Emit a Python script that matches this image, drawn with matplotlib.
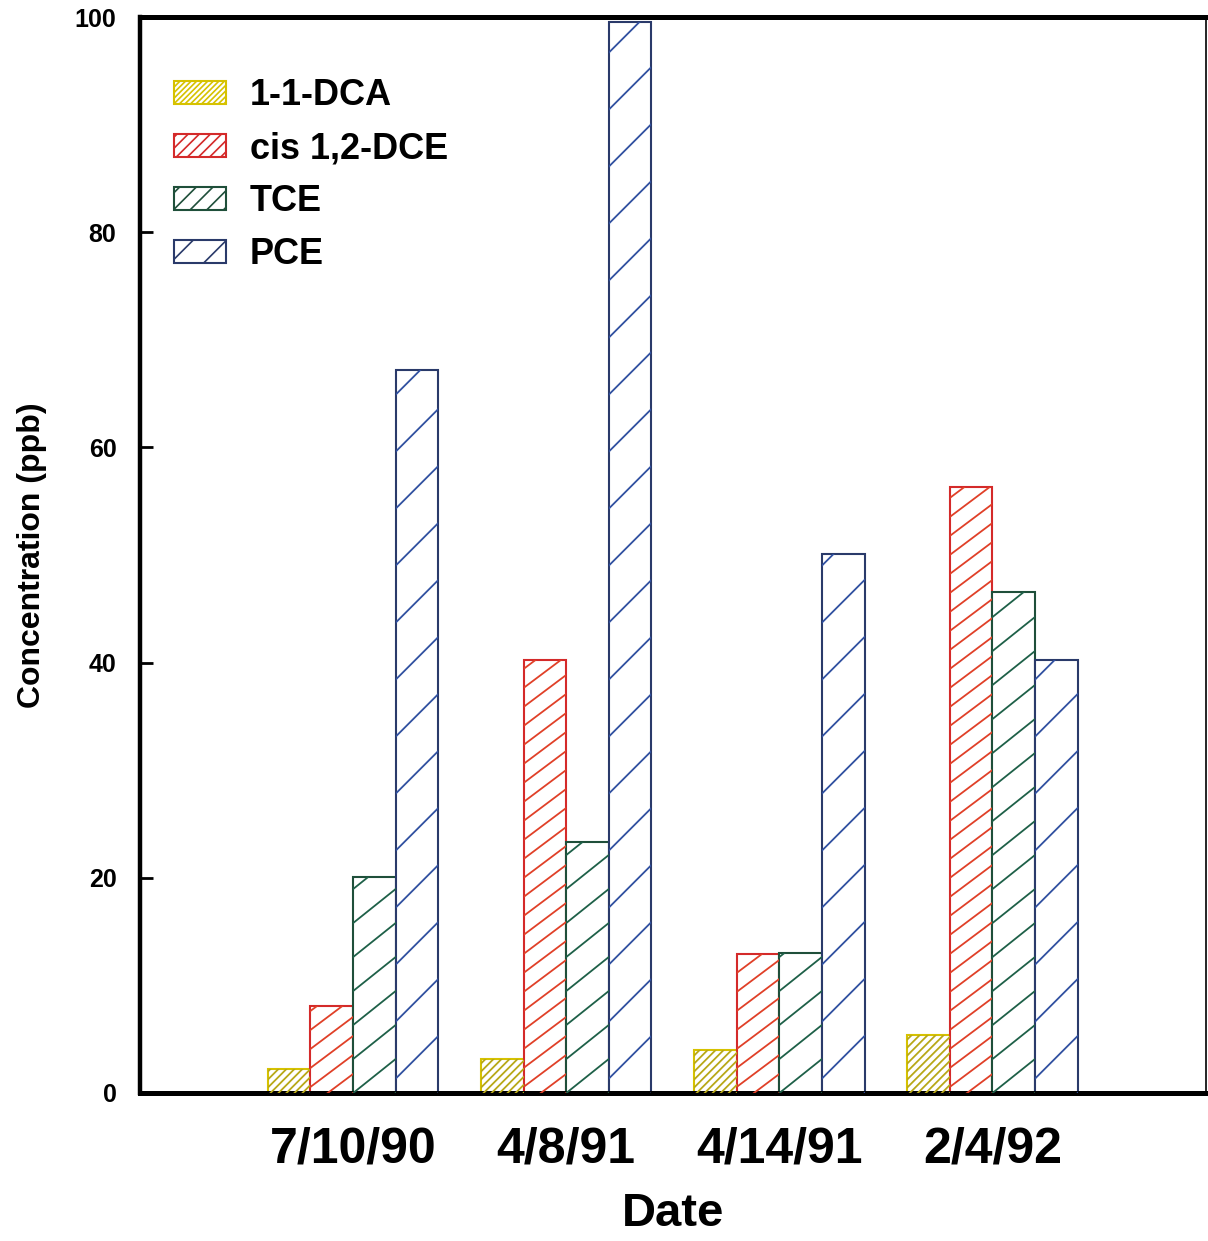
import matplotlib
matplotlib.use("Agg")
import matplotlib.pyplot as plt
from matplotlib.patches import Patch
from matplotlib.lines import Line2D
import numpy as np

dates = ["7/10/90", "4/8/91", "4/14/91", "2/4/92"]
species = ["1-1-DCA", "cis 1,2-DCE", "TCE", "PCE"]
dca = [2.2, 3.2, 4.0, 5.4]
dce = [8.1, 40.2, 12.9, 56.3]
tce = [20.1, 23.3, 13.0, 46.6]
pce = [67.2, 99.5, 50.1, 40.2]
yticks = [0, 20, 40, 60, 80, 100]

series = [dca, dce, tce, pce]
edge_colors = ["#d6c200", "#d42a2a", "#1f4f3a", "#2a3a6a"]
hatch_colors = ["#b8a818", "#e04028", "#1e6048", "#3050a0"]
# (slope in pixel space, vertical spacing in px)
hatch_geom = [(1.0, 8), (0.75, 19), (0.8, 34), (1.0, 57)]
legend_hatches = ["//////", "///", "//", "/"]

plt.rcParams['font.family'] = ['Liberation Sans', 'DejaVu Sans']
plt.rcParams['font.weight'] = 'bold'
plt.rcParams['hatch.linewidth'] = 1.2

fig = plt.figure(figsize=(12.08, 12.41), dpi=100)
ax = fig.add_axes([0.1159, 0.1193, 0.8821, 0.8670])

x = np.arange(1, len(dates) + 1)
width = 0.2
offsets = [-1.5, -0.5, 0.5, 1.5]

ax.set_xlim(0, 5)
ax.set_ylim(0, 100)

all_bars = []
for vals, off, ec in zip(series, offsets, edge_colors):
    bars = ax.bar(x + off * width, vals, width, facecolor="white",
                  edgecolor=ec, linewidth=1.5, zorder=2)
    all_bars.append(bars)

fig.canvas.draw()
trans = ax.transData
inv = trans.inverted()
for bars, hc, (slope, spacing) in zip(all_bars, hatch_colors, hatch_geom):
    for b in bars:
        x0, y0 = b.get_x(), b.get_y()
        x1, y1 = x0 + b.get_width(), y0 + b.get_height()
        (X0, Y0), (X1, Y1) = trans.transform([(x0, y0), (x1, y1)])
        c = Y0 - slope * (X1 - X0)
        while c < Y1:
            pts = inv.transform([(X0, c), (X1, c + slope * (X1 - X0))])
            ln = Line2D(pts[:, 0], pts[:, 1], color=hc, linewidth=1.3, zorder=3)
            ax.add_line(ln)
            ln.set_clip_path(b)
            c += spacing

ax.set_xticks(x)
ax.set_xticklabels(dates, fontsize=36, fontweight='bold')
ax.set_yticks(yticks)
ax.set_yticklabels([str(t) for t in yticks], fontsize=18, fontweight='bold')
ax.tick_params(axis='x', length=0, pad=24)
ax.tick_params(axis='y', direction='in', length=9, width=2, pad=17)

ax.set_xlabel("Date", fontsize=34, fontweight='bold', labelpad=14)
ax.set_ylabel("Concentration (ppb)", fontsize=23, fontweight='bold', labelpad=20)

for side, lw in [("left", 3.2), ("bottom", 3.6), ("top", 3.6), ("right", 1.2)]:
    ax.spines[side].set_linewidth(lw)
    ax.spines[side].set_color("black")

handles = [Patch(facecolor="white", edgecolor=ec, hatch=h, linewidth=1.5)
           for ec, h in zip(edge_colors, legend_hatches)]
leg = ax.legend(handles, species, loc="upper left", bbox_to_anchor=(0.032, 0.943),
                frameon=False, fontsize=26, handlelength=1.45, handleheight=0.62,
                handletextpad=0.65, labelspacing=0.5, borderpad=0, borderaxespad=0)
for t in leg.get_texts():
    t.set_fontweight('bold')

fig.savefig("out.png", dpi=100)
